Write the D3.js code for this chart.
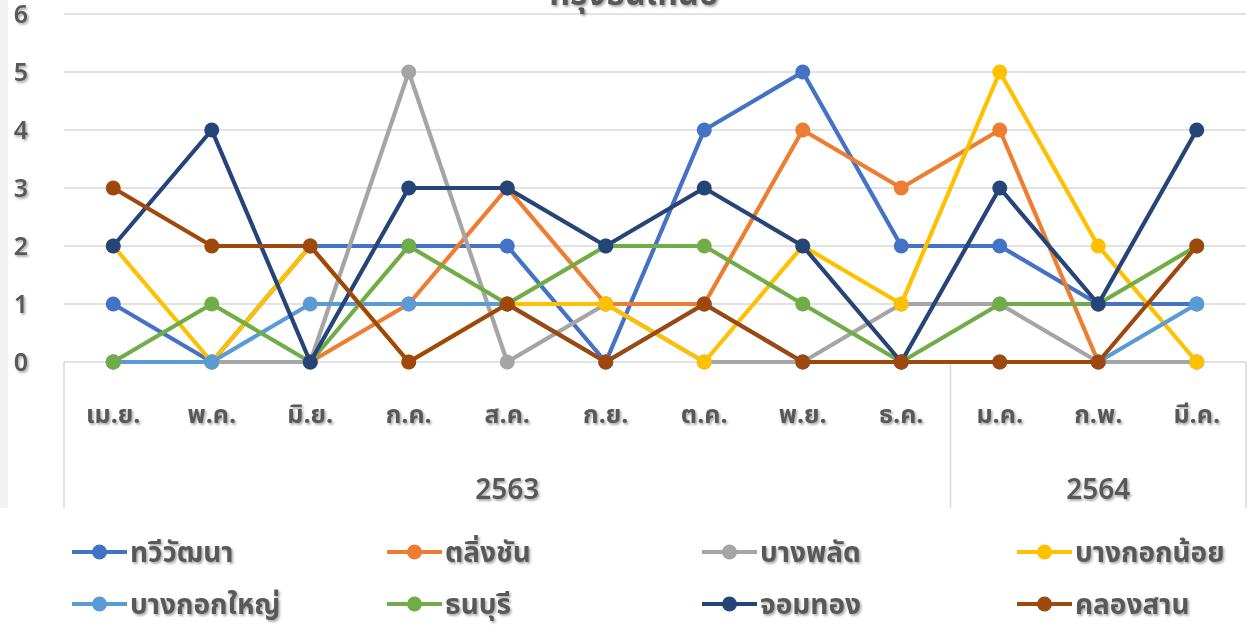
<!DOCTYPE html>
<html>
<head>
<meta charset="utf-8">
<script src="https://cdn.jsdelivr.net/npm/d3@7"></script>
<style>
  html, body { margin: 0; padding: 0; background: #fff; }
  svg { display: block; }
  text { font-family: "Leelawadee UI", "Noto Sans Thai", "Noto Sans Thai UI", Tahoma, "Noto Sans", sans-serif; fill: #595959; }
</style>
</head>
<body>
<svg id="chart" width="1255" height="635"></svg>
<script>
// Monthly counts per district, April 2563 – March 2564
const months = ["เม.ย.", "พ.ค.", "มิ.ย.", "ก.ค.", "ส.ค.", "ก.ย.", "ต.ค.", "พ.ย.", "ธ.ค.", "ม.ค.", "ก.พ.", "มี.ค."];
const yearGroups = [
  { year: "2563", from: 0, to: 8 },
  { year: "2564", from: 9, to: 11 }
];
const yTicks = [0, 1, 2, 3, 4, 5, 6];
const title = "กรุงธนเหนือ";

const seriesNames = ["ทวีวัฒนา", "ตลิ่งชัน", "บางพลัด", "บางกอกน้อย", "บางกอกใหญ่", "ธนบุรี", "จอมทอง", "คลองสาน"];
const seriesColors = ["#4472C4", "#ED7D31", "#A5A5A5", "#FFC000", "#5B9BD5", "#70AD47", "#264478", "#9E480E"];

const taweewatthana = [1, 0, 2, 2, 2, 0, 4, 5, 2, 2, 1, 1];
const talingchan    = [0, 0, 0, 1, 3, 1, 1, 4, 3, 4, 0, 0];
const bangphlat     = [0, 0, 0, 5, 0, 1, 0, 0, 1, 1, 0, 0];
const bangkoknoi    = [2, 0, 2, 0, 1, 1, 0, 2, 1, 5, 2, 0];
const bangkokyai    = [0, 0, 1, 1, 1, 0, 1, 0, 0, 0, 0, 1];
const thonburi      = [0, 1, 0, 2, 1, 2, 2, 1, 0, 1, 1, 2];
const chomthong     = [2, 4, 0, 3, 3, 2, 3, 2, 0, 3, 1, 4];
const khlongsan     = [3, 2, 2, 0, 1, 0, 1, 0, 0, 0, 0, 2];

const seriesValues = [taweewatthana, talingchan, bangphlat, bangkoknoi, bangkokyai, thonburi, chomthong, khlongsan];

const svg = d3.select("#chart");

// soft shadow used under all chart text
const defs = svg.append("defs");
const f = defs.append("filter").attr("id", "txtShadow")
  .attr("x", "-10%").attr("y", "-10%").attr("width", "130%").attr("height", "140%");
f.append("feDropShadow").attr("dx", 1.5).attr("dy", 1.8).attr("stdDeviation", 1.1)
  .attr("flood-color", "#000").attr("flood-opacity", 0.35);

// thin grey strip on the left edge
svg.append("rect").attr("x", 0).attr("y", 0).attr("width", 8).attr("height", 508).attr("fill", "#f2f2f2");

const plotLeft = 64, plotRight = 1246, plotTop = 14, plotBottom = 362, axisBottom = 508;

const x = d3.scalePoint().domain(months).range([plotLeft, plotRight]).padding(0.5);
const y = d3.scaleLinear().domain([0, 6]).range([plotBottom, plotTop]);

// horizontal gridlines
svg.append("g").selectAll("line").data(yTicks.filter(t => t > 0)).join("line")
  .attr("x1", plotLeft).attr("x2", plotRight)
  .attr("y1", d => y(d)).attr("y2", d => y(d))
  .attr("stroke", "#d9d9d9").attr("stroke-width", 1.5);

// value axis labels
svg.append("g").selectAll("text").data(yTicks).join("text")
  .attr("x", 21).attr("y", d => y(d)).attr("dy", "0.36em")
  .attr("text-anchor", "middle").attr("font-size", 25).attr("font-weight", 600)
  .attr("filter", "url(#txtShadow)")
  .text(d => d);

// category axis: baseline and group dividers
const axisG = svg.append("g");
axisG.append("line").attr("x1", plotLeft).attr("x2", plotRight)
  .attr("y1", plotBottom).attr("y2", plotBottom)
  .attr("stroke", "#d9d9d9").attr("stroke-width", 1.5);
const step = x.step();
const dividers = [plotLeft].concat(yearGroups.map(g => x(months[g.to]) + step / 2));
axisG.selectAll("line.div").data(dividers).join("line").attr("class", "div")
  .attr("x1", d => d).attr("x2", d => d)
  .attr("y1", plotBottom).attr("y2", axisBottom)
  .attr("stroke", "#d9d9d9").attr("stroke-width", 1.5);

axisG.selectAll("text.month").data(months).join("text").attr("class", "month")
  .attr("x", d => x(d)).attr("y", 423)
  .attr("text-anchor", "middle").attr("font-size", 25).attr("font-weight", "bold")
  .attr("filter", "url(#txtShadow)")
  .text(d => d);

axisG.selectAll("text.year").data(yearGroups).join("text").attr("class", "year")
  .attr("x", d => (x(months[d.from]) + x(months[d.to])) / 2).attr("y", 499)
  .attr("text-anchor", "middle").attr("font-size", 28).attr("font-weight", 600)
  .attr("filter", "url(#txtShadow)")
  .text(d => d.year);

// title (sits partly above the top edge)
svg.append("text").attr("x", 634).attr("y", 5)
  .attr("text-anchor", "middle").attr("font-size", 33).attr("font-weight", "bold")
  .attr("filter", "url(#txtShadow)")
  .text(title);

// series lines with markers, drawn in order so later series sit on top
const line = d3.line().x((d, i) => x(months[i])).y(d => y(d));
seriesValues.forEach((vals, si) => {
  const g = svg.append("g");
  g.append("path").datum(vals).attr("d", line)
    .attr("fill", "none").attr("stroke", seriesColors[si])
    .attr("stroke-width", 4.2).attr("stroke-linejoin", "round");
  g.selectAll("circle").data(vals).join("circle")
    .attr("cx", (d, i) => x(months[i])).attr("cy", d => y(d))
    .attr("r", 7.5).attr("fill", seriesColors[si]);
});

// legend, four columns by two rows
const legendCols = [72, 387, 702, 1017];
const legendRows = [552, 604];
const legend = svg.append("g");
seriesNames.forEach((name, i) => {
  const lx = legendCols[i % 4], ly = legendRows[Math.floor(i / 4)];
  const g = legend.append("g");
  g.append("line").attr("x1", lx).attr("x2", lx + 55).attr("y1", ly).attr("y2", ly)
    .attr("stroke", seriesColors[i]).attr("stroke-width", 4.2);
  g.append("circle").attr("cx", lx + 27.5).attr("cy", ly).attr("r", 7.5).attr("fill", seriesColors[i]);
  g.append("text").attr("x", lx + 58).attr("y", ly).attr("dy", "0.36em")
    .attr("font-size", 28).attr("font-weight", "bold")
    .attr("filter", "url(#txtShadow)")
    .text(name);
});
</script>
</body>
</html>
